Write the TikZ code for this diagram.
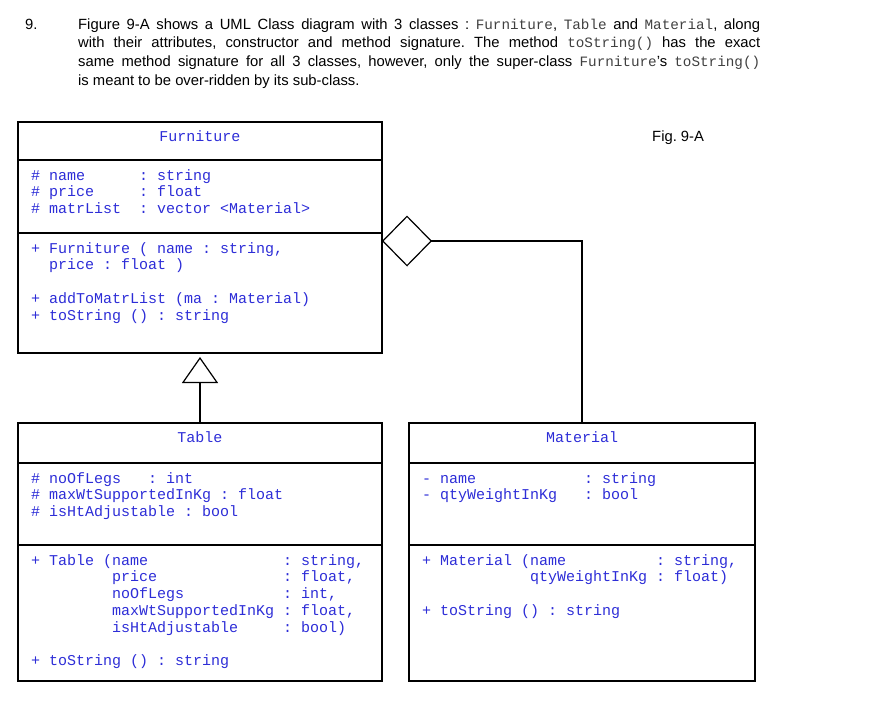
\documentclass[tikz,border=0pt]{standalone}
\usepackage{fontspec}
\setmainfont{Liberation Sans}
\setmonofont{Liberation Mono}
\usetikzlibrary{positioning,arrows.meta}

\definecolor{umlblue}{RGB}{45,45,215}
\newcommand{\pad}[1]{\hspace*{#1\fontcharwd\font`\M}}
\newcommand{\srccode}[1]{{\ttfamily\fontsize{14.3}{18.7}\selectfont\color{black!75}#1}}
\newcommand{\members}[1]{\begin{tabular}[t]{@{}l@{}}#1\end{tabular}}
\frenchspacing

\tikzset{
    compart/.style={draw, line width=1.2pt, outer sep=0pt, inner sep=0pt, minimum width=364pt},
    member/.style={font=\ttfamily\fontsize{15}{16.8}\selectfont, text=umlblue, inner sep=0pt, anchor=base west},
    clsname/.style={font=\ttfamily\fontsize{15}{16.8}\selectfont, text=umlblue, inner sep=0pt, anchor=base},
    question/.style={font=\fontsize{14.8}{18.7}\selectfont, inner sep=0pt, anchor=base west},
    inherit/.style={line width=1.2pt, -{Triangle[open,length=26pt,width=36pt]}},
    aggr/.style={line width=1.2pt, -{Diamond[open,length=50pt,width=51pt]}}
}

\begin{document}
\begin{tikzpicture}[x=1pt,y=-1pt]
    \useasboundingbox (0,0) rectangle (891,707);

    \node[question] (qNum) at (25,29) {9.};
    \node[question, text width=682pt, align=justify] (qText) at (78,29) {Figure 9-A shows a UML Class diagram with 3 classes : \srccode{Furniture}, \srccode{Table} and \srccode{Material}, along\linebreak
        with their attributes, constructor and method signature. The method \srccode{toString()} has the exact\linebreak
        same method signature for all 3 classes, however, only the super-class \srccode{Furniture}'s \srccode{toString()}\linebreak
        is meant to be over-ridden by its sub-class.};
    \node[question] (figLabel) at (652,141) {Fig. 9-A};

    % Furniture
    \node[compart, minimum height=38pt, anchor=north west] (furnHead) at (18,122) {};
    \node[compart, minimum height=73pt, below=0pt of furnHead] (furnAttr) {};
    \node[compart, minimum height=120pt, below=0pt of furnAttr] (furnOps) {};
    \node[clsname] (furnName) at ([yshift=-19pt]furnHead.north) {Furniture};
    \node[member] (furnAttrTxt) at ([xshift=13pt,yshift=-20pt]furnAttr.north west)
        {\members{\# name\pad{6}: string\\\# price\pad{5}: float\\\# matrList\pad{2}: vector <Material>}};
    \node[member] (furnOpsTxt) at ([xshift=13pt,yshift=-20pt]furnOps.north west)
        {\members{+ Furniture ( name : string,\\\pad{2}price : float )\\[16.8pt]+ addToMatrList (ma : Material)\\+ toString () : string}};

    % Table
    \node[compart, minimum height=40pt, below=70pt of furnOps] (tableHead) {};
    \node[compart, minimum height=82pt, below=0pt of tableHead] (tableAttr) {};
    \node[compart, minimum height=136pt, below=0pt of tableAttr] (tableOps) {};
    \node[clsname] (tableName) at ([yshift=-19pt]tableHead.north) {Table};
    \node[member] (tableAttrTxt) at ([xshift=13pt,yshift=-20pt]tableAttr.north west)
        {\members{\# noOfLegs\pad{3}: int\\\# maxWtSupportedInKg : float\\\# isHtAdjustable : bool}};
    \node[member] (tableOpsTxt) at ([xshift=13pt,yshift=-20pt]tableOps.north west)
        {\members{+ Table (name\pad{15}: string,\\\pad{9}price\pad{14}: float,\\\pad{9}noOfLegs\pad{11}: int,\\\pad{9}maxWtSupportedInKg : float,\\\pad{9}isHtAdjustable\pad{5}: bool)\\[16.8pt]+ toString () : string}};

    % Material
    \node[compart, minimum width=346pt, minimum height=40pt, right=27pt of tableHead] (matHead) {};
    \node[compart, minimum width=346pt, minimum height=82pt, below=0pt of matHead] (matAttr) {};
    \node[compart, minimum width=346pt, minimum height=136pt, below=0pt of matAttr] (matOps) {};
    \node[clsname] (matName) at ([yshift=-19pt]matHead.north) {Material};
    \node[member] (matAttrTxt) at ([xshift=13pt,yshift=-20pt]matAttr.north west)
        {\members{- name\pad{12}: string\\- qtyWeightInKg\pad{3}: bool}};
    \node[member] (matOpsTxt) at ([xshift=13pt,yshift=-20pt]matOps.north west)
        {\members{+ Material (name\pad{10}: string,\\\pad{12}qtyWeightInKg : float)\\[16.8pt]+ toString () : string}};

    \coordinate (furnAgg) at ([yshift=-8pt]furnOps.north east);
    \coordinate (furnGen) at ([yshift=-4pt]furnOps.south);
    \draw[aggr] (matHead.north) |- (furnAgg);
    \draw[inherit] (tableHead.north) -- (furnGen);
\end{tikzpicture}
\end{document}
